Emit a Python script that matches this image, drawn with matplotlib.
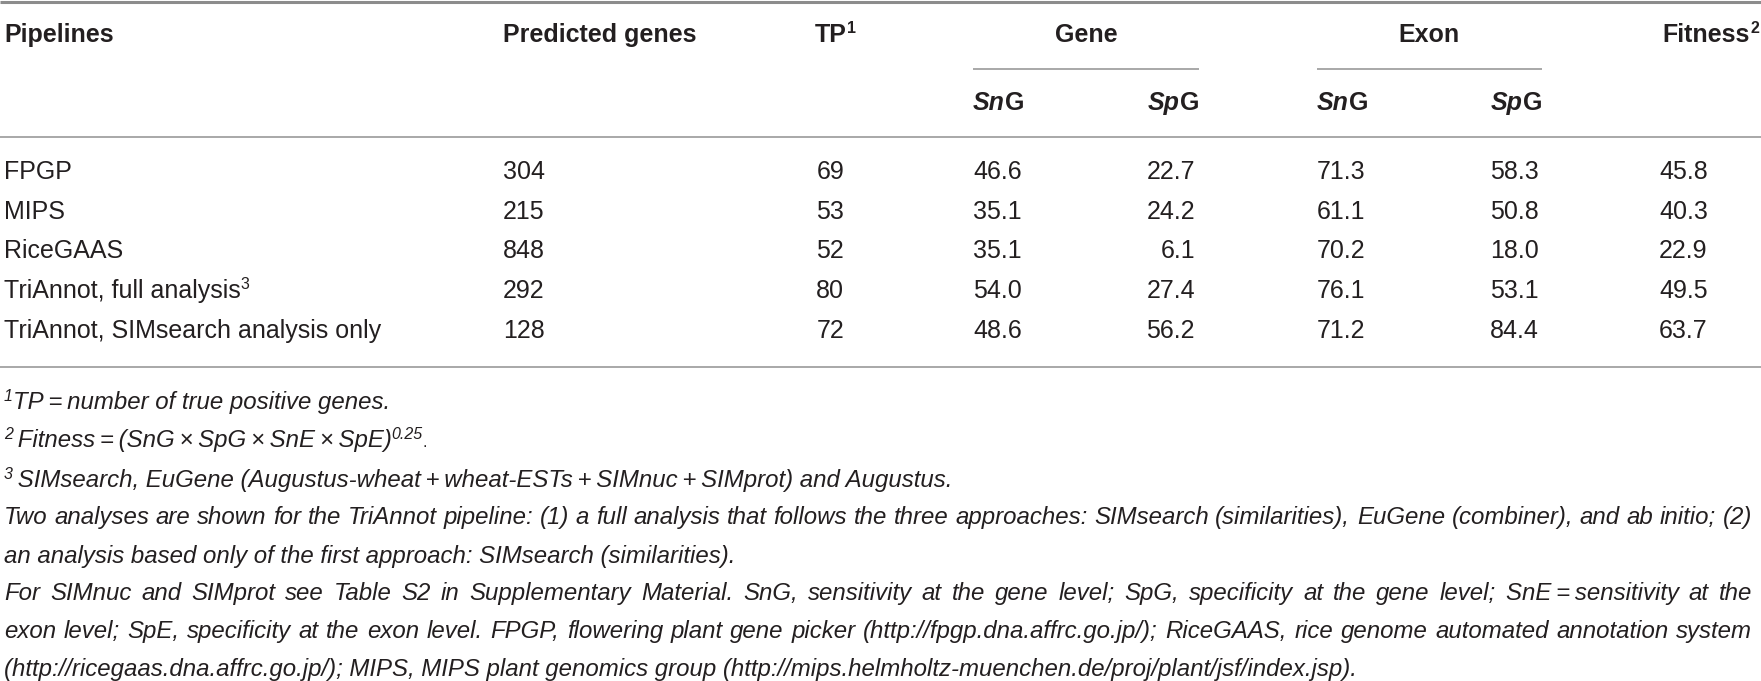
import matplotlib
matplotlib.use("Agg")
import matplotlib.pyplot as plt

# table content
pipelines = ["FPGP", "MIPS", "RiceGAAS", "TriAnnot, full analysis",
             "TriAnnot, SIMsearch analysis only"]
pipeline_notes = ["", "", "", "3", ""]
predicted = [304, 215, 848, 292, 128]
tp = [69, 53, 52, 80, 72]
gene_sn = [46.6, 35.1, 35.1, 54.0, 48.6]
gene_sp = [22.7, 24.2, 6.1, 27.4, 56.2]
exon_sn = [71.3, 61.1, 70.2, 76.1, 71.2]
exon_sp = [58.3, 50.8, 18.0, 53.1, 84.4]
fitness = [45.8, 40.3, 22.9, 49.5, 63.7]

T = "\u2009"  # thin space
notes_plain = [
    ("1", f"TP{T}={T}number of true positive genes."),
    ("2", f"{T}Fitness{T}={T}(SnG{T}\u00d7{T}SpG{T}\u00d7{T}SnE{T}\u00d7{T}SpE)"),
    ("3", f"{T}SIMsearch, EuGene (Augustus-wheat{T}+{T}wheat-ESTs{T}+{T}SIMnuc{T}+{T}SIMprot) and Augustus."),
]
notes_text = [
    ("Two analyses are shown for the TriAnnot pipeline: (1) a full analysis that follows the three "
     "approaches: SIMsearch (similarities), EuGene (combiner), and ab initio; (2)", True),
    ("an analysis based only of the first approach: SIMsearch (similarities).", False),
    ("For SIMnuc and SIMprot see Table S2 in Supplementary Material. SnG, sensitivity at the gene "
     f"level; SpG, specificity at the gene level; SnE{T}={T}sensitivity at the", True),
    ("exon level; SpE, specificity at the exon level. FPGP, flowering plant gene picker "
     "(http://fpgp.dna.affrc.go.jp/); RiceGAAS, rice genome automated annotation system", True),
    ("(http://ricegaas.dna.affrc.go.jp/); MIPS, MIPS plant genomics group "
     "(http://mips.helmholtz-muenchen.de/proj/plant/jsf/index.jsp).", False),
]

W, H = 1761, 681
FONT = "Liberation Sans"
INK = "#231f20"
BODY = 18
NOTE = 17.3
SUP = 11.5

fig = plt.figure(figsize=(W / 100, H / 100), dpi=100)
ax = fig.add_axes([0, 0, 1, 1])
ax.set_xlim(0, W)
ax.set_ylim(H, 0)
ax.axis("off")
renderer = fig.canvas.get_renderer()


def txt(x, y, s, size=BODY, weight="normal", style="normal", ha="left"):
    return ax.text(x, y, s, fontsize=size, fontweight=weight, fontstyle=style,
                   family=FONT, ha=ha, va="baseline", color=INK)


def rich(x, y, parts, ha="left"):
    # parts: (text, size, weight, style, rise)
    items = []
    for s, size, weight, style, rise in parts:
        items.append(txt(0, y - rise, s, size, weight, style))
    widths = [t.get_window_extent(renderer).width for t in items]
    total = sum(widths)
    if ha == "right":
        x = x - total
    elif ha == "center":
        x = x - total / 2
    for t, w in zip(items, widths):
        t.set_x(x)
        x += w


def justify(x0, x1, y, line, size=NOTE, style="italic"):
    words = line.split(" ")
    items = [txt(0, y, w, size, style=style) for w in words]
    widths = [t.get_window_extent(renderer).width for t in items]
    gap = (x1 - x0 - sum(widths)) / (len(words) - 1)
    x = x0
    for t, w in zip(items, widths):
        t.set_x(x)
        x += w + gap


# rules
ax.hlines(2, 0, W, color="#8c8c8c", lw=2.2)
ax.hlines([137, 367], 0, W, color="#a8a8a8", lw=1.4)
ax.hlines([69, 69], [973, 1317], [1199, 1542], color="#a8a8a8", lw=1.4)

# header
X0 = 4
head_y, sub_y = 42, 110
txt(X0, head_y, "Pipelines", weight="bold")
txt(503, head_y, "Predicted genes", weight="bold")
rich(815, head_y, [("TP", BODY, "bold", "normal", 0), ("1", SUP, "bold", "normal", 9)])
txt(1086, head_y, "Gene", weight="bold", ha="center")
txt(1429, head_y, "Exon", weight="bold", ha="center")
rich(1759, head_y, [("Fitness", BODY, "bold", "normal", 0), ("2", SUP, "bold", "normal", 9)],
     ha="right")
for x, lab, ha in [(973, "Sn", "left"), (1199, "Sp", "right"),
                   (1317, "Sn", "left"), (1542, "Sp", "right")]:
    rich(x, sub_y, [(lab, BODY, "bold", "italic", 0), ("G", BODY, "bold", "normal", 0)], ha=ha)

# body rows
row_y = [179, 219, 258, 298, 338]
for i, y in enumerate(row_y):
    parts = [(pipelines[i], BODY, "normal", "normal", 0)]
    if pipeline_notes[i]:
        parts.append((pipeline_notes[i], SUP, "normal", "normal", 9))
    rich(X0, y, parts)
    txt(503, y, str(predicted[i]))
    txt(844, y, str(tp[i]), ha="right")
    txt(973, y, f"{gene_sn[i]:.1f}")
    txt(1195, y, f"{gene_sp[i]:.1f}", ha="right")
    txt(1317, y, f"{exon_sn[i]:.1f}")
    txt(1539, y, f"{exon_sp[i]:.1f}", ha="right")
    txt(1659, y, f"{fitness[i]:.1f}")

# footnotes
note_y = [409, 447, 487, 524, 563, 600, 638, 676]
for (mark, s), y in zip(notes_plain, note_y[:3]):
    parts = [(mark, SUP, "normal", "italic", 8), (s, NOTE, "normal", "italic", 0)]
    if mark == "2":
        parts += [("0.25", SUP, "normal", "italic", 8), (".", SUP, "normal", "normal", 0)]
    rich(X0, y, parts)
for (s, just), y in zip(notes_text, note_y[3:]):
    if just:
        justify(X0, 1752, y, s)
    else:
        txt(X0, y, s, NOTE, style="italic")

fig.savefig("out.png", dpi=100)
